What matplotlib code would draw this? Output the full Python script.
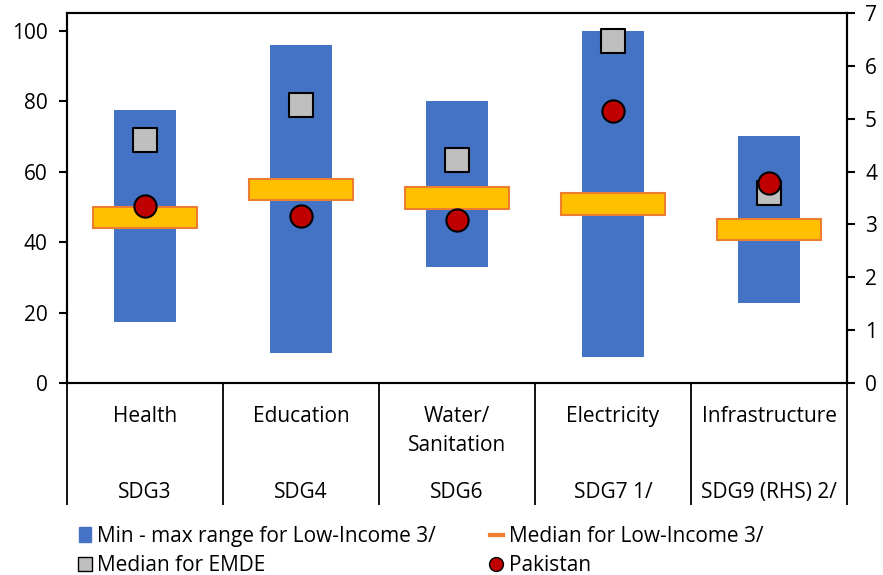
import matplotlib
matplotlib.use("Agg")
import matplotlib.pyplot as plt
import matplotlib.transforms as mtransforms
from matplotlib.lines import Line2D
from matplotlib.patches import Patch

# categories: label lines (top) and SDG code (bottom)
cat_names = [["Health"], ["Education"], ["Water/", "Sanitation"], ["Electricity"], ["Infrastructure"]]
sdg_codes = ["SDG3", "SDG4", "SDG6", "SDG7 1/", "SDG9 (RHS) 2/"]

# first four on LHS (0-100), last one on RHS (0-7)
li_min = [17.3, 8.5, 33.0, 7.5]
li_max = [77.5, 95.8, 79.9, 100.0]
li_median = [47.0, 55.0, 52.5, 50.8]
emde_median = [68.9, 78.8, 63.4, 97.0]
pakistan = [50.1, 47.5, 46.3, 77.1]

rhs_min = 1.51
rhs_max = 4.68
rhs_median = 2.91
rhs_emde = 3.6
rhs_pakistan = 3.79

BLUE = "#4472C4"
GOLD = "#FFC000"
ORANGE = "#ED7D31"
GREY = "#BFBFBF"
RED = "#C00000"

FS = 15

plt.rcParams['font.family'] = ['Open Sans', 'DejaVu Sans']
plt.rcParams['font.size'] = FS

fig = plt.figure(figsize=(8.83, 5.75), dpi=100)
ax = fig.add_axes([67/883, 1-383/575, 780/883, 370/575])
ax2 = ax.twinx()

ax.set_xlim(-0.5, 4.5)
ax.set_ylim(0, 105)
ax2.set_ylim(0, 7)

bar_w = 0.4
box_w = 0.667
box_h = 6.0

xs = list(range(len(li_min)))
ax.bar(xs, [hi - lo for lo, hi in zip(li_min, li_max)], bottom=li_min,
       width=bar_w, color=BLUE, zorder=2)
ax.bar(xs, box_h, bottom=[m - box_h/2 for m in li_median], width=box_w,
       color=GOLD, edgecolor=ORANGE, linewidth=1.5, zorder=3)
ax.scatter(xs, emde_median, marker='s', s=17**2, color=GREY,
           edgecolor='black', linewidth=1.5, zorder=4)
ax.scatter(xs, pakistan, marker='o', s=16**2, color=RED,
           edgecolor='black', linewidth=1.5, zorder=5)

# infrastructure on right-hand scale
ax2.bar([4], [rhs_max - rhs_min], bottom=[rhs_min], width=bar_w, color=BLUE, zorder=2)
ax2.bar([4], [box_h/15], bottom=[rhs_median - box_h/30], width=box_w,
        color=GOLD, edgecolor=ORANGE, linewidth=1.5, zorder=3)
ax2.scatter([4], [rhs_emde], marker='s', s=17**2, color=GREY,
            edgecolor='black', linewidth=1.5, zorder=4)
ax2.scatter([4], [rhs_pakistan], marker='o', s=16**2, color=RED,
            edgecolor='black', linewidth=1.5, zorder=5)

ax.set_yticks(range(0, 101, 20))
ax2.set_yticks(range(0, 8))
for a in (ax, ax2):
    for s in a.spines.values():
        s.set_linewidth(1.5)
    a.tick_params(axis='y', direction='out', length=6, width=1.5, labelsize=FS)
ax.tick_params(axis='y', pad=8)
ax2.tick_params(axis='y', pad=7)

# category separators as long ticks below the axis
ax.set_xticks([i - 0.5 for i in range(6)])
ax.set_xticklabels([])
ax.tick_params(axis='x', direction='out', length=88, width=1.3)

trans = mtransforms.blended_transform_factory(ax.transData, ax.transAxes)
for i, (lines, code) in enumerate(zip(cat_names, sdg_codes)):
    for j, line in enumerate(lines):
        ax.annotate(line, xy=(i, 0), xycoords=trans, xytext=(0, -24 - 21 * j),
                    textcoords='offset points', ha='center', va='center', fontsize=FS)
    ax.annotate(code, xy=(i, 0), xycoords=trans, xytext=(0, -78.5),
                textcoords='offset points', ha='center', va='center', fontsize=FS)

handles = [
    Patch(color=BLUE, label="Min - max range for Low-Income 3/"),
    Line2D([], [], marker='s', linestyle='none', markersize=10, markerfacecolor=GREY,
           markeredgecolor='black', label="Median for EMDE"),
    Line2D([], [], color=ORANGE, linewidth=3, label="Median for Low-Income 3/"),
    Line2D([], [], marker='o', linestyle='none', markersize=10, markerfacecolor=RED,
           markeredgecolor='black', label="Pakistan"),
]
fig.legend(handles=handles, ncol=2, loc='lower left', bbox_to_anchor=(66/883, -0.024),
           frameon=False, fontsize=FS, handlelength=0.6, handletextpad=0.3,
           columnspacing=2.6, labelspacing=0.4, borderaxespad=0.2)

fig.savefig("out.png", dpi=100)
